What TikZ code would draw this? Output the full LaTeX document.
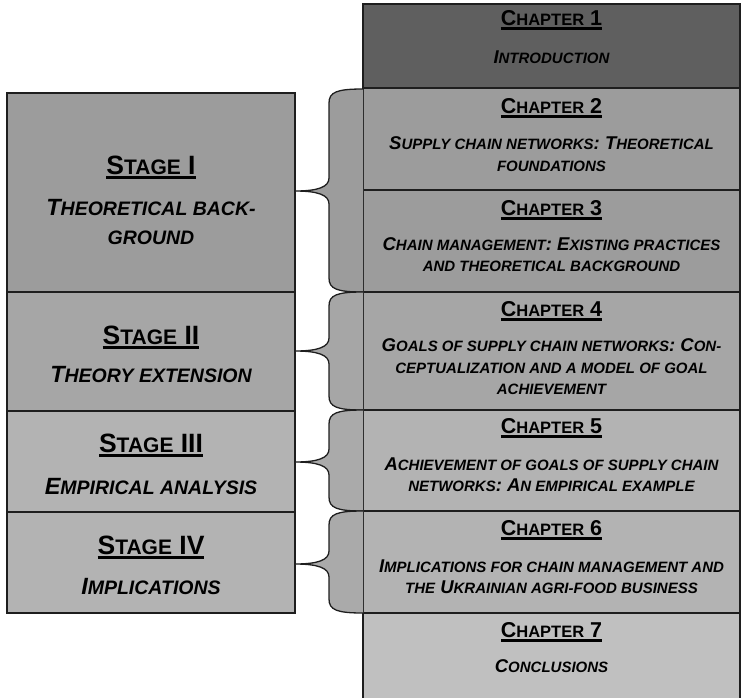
\documentclass[tikz,border=0pt]{standalone}
\usepackage{fontspec}
\setmainfont{Liberation Sans}
\definecolor{cone}{RGB}{95,95,95}
\definecolor{gA}{RGB}{156,156,156}
\definecolor{gB}{RGB}{166,166,166}
\definecolor{gC}{RGB}{179,179,179}
\definecolor{gCb}{RGB}{170,170,170}
\definecolor{gD}{RGB}{192,192,192}
\definecolor{edge}{RGB}{30,30,30}
\newcommand\smc[1]{{\scs #1}}
\newcommand\myul[1]{\setbox0=\hbox{#1}\leavevmode\rlap{\rule[-4.5pt]{\wd0}{2.4pt}}\box0}
\newcommand\mybrace[5]{%
  \coordinate (#5) at (295,#3);
  \fill[#4] (363,#1) .. controls (337,#1) and (329,#1+3) .. (329,#1+14) -- (329,#3-13)
     .. controls (329,#3-4) and (318,#3) .. (#5)
     .. controls (318,#3) and (329,#3+4) .. (329,#3+13) -- (329,#2-14)
     .. controls (329,#2-3) and (337,#2) .. (363,#2) -- cycle;
  \draw[edge,line width=1.3pt] (363,#1) .. controls (337,#1) and (329,#1+3) .. (329,#1+14) -- (329,#3-13)
     .. controls (329,#3-4) and (318,#3) .. (#5)
     .. controls (318,#3) and (329,#3+4) .. (329,#3+13) -- (329,#2-14)
     .. controls (329,#2-3) and (337,#2) .. (363,#2);}
\tikzset{
  box/.style={draw=edge,line width=1.3pt,inner sep=0pt,outer sep=0pt,anchor=north west,minimum width=#1},
  chbox/.style={box=377pt},
  stbox/.style={box=288pt},
  chhead/.style={inner sep=0pt,font={\bfseries\fontsize{21.5}{26}\selectfont\def\scs{\fontsize{16.5}{20}\selectfont}}},
  chbody/.style={inner sep=0pt,align=center,font={\bfseries\itshape\fontsize{18.5}{21.5}\selectfont\def\scs{\fontsize{15}{18}\selectfont}}},
  sthead/.style={inner sep=0pt,font={\bfseries\fontsize{26.5}{30}\selectfont\def\scs{\fontsize{21}{24}\selectfont}}},
  stbody/.style={inner sep=0pt,align=center,font={\bfseries\itshape\fontsize{23.5}{28.5}\selectfont\def\scs{\fontsize{19.5}{22}\selectfont}}},
}
\begin{document}
\begin{tikzpicture}[x=1pt,y=-1pt]
\useasboundingbox (0,0) rectangle (742,697);
% chapter column
\node[chbox,fill=cone,minimum height=84pt] (ch1) at (363,4) {};
\node[chbox,fill=gA,minimum height=102pt] (ch2) at (363,88) {};
\node[chbox,fill=gA,minimum height=102pt] (ch3) at (363,190) {};
\node[chbox,fill=gB,minimum height=118pt] (ch4) at (363,292) {};
\node[chbox,fill=gC,minimum height=101pt] (ch5) at (363,410) {};
\node[chbox,fill=gC,minimum height=102pt] (ch6) at (363,511) {};
\node[chbox,fill=gD,minimum height=90pt] (ch7) at (363,613) {};
% stage column
\node[stbox,fill=gA,minimum height=199pt] (s1) at (7,93) {};
\node[stbox,fill=gB,minimum height=119pt] (s2) at (7,292) {};
\node[stbox,fill=gC,minimum height=101pt] (s3) at (7,411) {};
\node[stbox,fill=gC,minimum height=101pt] (s4) at (7,512) {};
% braces
\mybrace{89}{292}{191}{gA}{b1}
\mybrace{292}{410}{351}{gB}{b2}
\mybrace{410}{511}{462}{gCb}{b3}
\mybrace{511}{613}{564}{gCb}{b4}
% chapter texts
\node[chhead] (t1h) at (551.5,20) {\myul{C\smc{HAPTER} 1}};
\node[chbody] (t1b) at (551.5,57) {I\smc{NTRODUCTION}};
\node[chhead] (t2h) at (551.5,108) {\myul{C\smc{HAPTER} 2}};
\node[chbody] (t2b) at (551.5,154) {S\smc{UPPLY CHAIN NETWORKS}: T\smc{HEORETICAL}\\ \smc{FOUNDATIONS}};
\node[chhead] (t3h) at (551.5,210) {\myul{C\smc{HAPTER} 3}};
\node[chbody] (t3b) at (551.5,254.5) {C\smc{HAIN MANAGEMENT}: E\smc{XISTING PRACTICES}\\ \smc{AND THEORETICAL BACKGROUND}};
\node[chhead] (t4h) at (551.5,311) {\myul{C\smc{HAPTER} 4}};
\node[chbody] (t4b) at (551.5,367) {G\smc{OALS OF SUPPLY CHAIN NETWORKS}: C\smc{ON-}\\ \smc{CEPTUALIZATION AND A MODEL OF GOAL}\\ \smc{ACHIEVEMENT}};
\node[chhead] (t5h) at (551.5,428) {\myul{C\smc{HAPTER} 5}};
\node[chbody] (t5b) at (551.5,474.5) {A\smc{CHIEVEMENT OF GOALS OF SUPPLY CHAIN}\\ \smc{NETWORKS}: A\smc{N EMPIRICAL EXAMPLE}};
\node[chhead] (t6h) at (551.5,530) {\myul{C\smc{HAPTER} 6}};
\node[chbody] (t6b) at (551.5,576.5) {I\smc{MPLICATIONS FOR CHAIN MANAGEMENT AND}\\ \smc{THE} U\smc{KRAINIAN AGRI-FOOD BUSINESS}};
\node[chhead] (t7h) at (551.5,632) {\myul{C\smc{HAPTER} 7}};
\node[chbody] (t7b) at (551.5,666) {C\smc{ONCLUSIONS}};
% stage texts
\node[sthead] (u1h) at (151,167) {\myul{S\smc{TAGE} I}};
\node[stbody] (u1b) at (151,222) {T\smc{HEORETICAL BACK-}\\ \smc{GROUND}};
\node[sthead] (u2h) at (151,337) {\myul{S\smc{TAGE} II}};
\node[stbody] (u2b) at (151,375) {T\smc{HEORY EXTENSION}};
\node[sthead] (u3h) at (151,445) {\myul{S\smc{TAGE} III}};
\node[stbody] (u3b) at (151,487) {E\smc{MPIRICAL ANALYSIS}};
\node[sthead] (u4h) at (151,547) {\myul{S\smc{TAGE} IV}};
\node[stbody] (u4b) at (151,587) {I\smc{MPLICATIONS}};
\end{tikzpicture}
\end{document}
